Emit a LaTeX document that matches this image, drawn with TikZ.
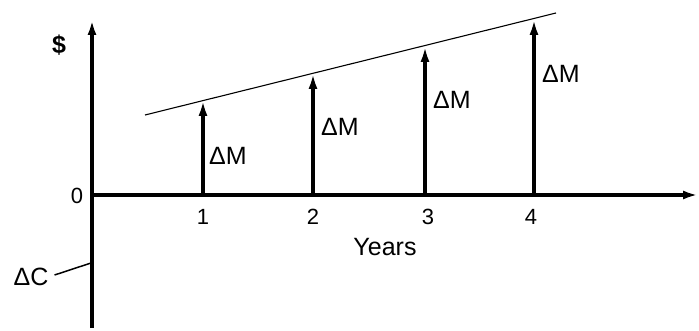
\documentclass[tikz,border=0pt]{standalone}
\usepackage{fontspec}
\setmainfont{Liberation Sans}
\usetikzlibrary{arrows.meta}
\begin{document}
\begin{tikzpicture}[x=1pt,y=-1pt,
  axis/.style={line width=3.2pt, -{Latex[length=15pt,width=9pt]}},
  flow/.style={line width=3.2pt, -{Latex[length=16pt,width=9pt]}},
  lbl/.style={font=\fontsize{25}{25}\selectfont, inner sep=0pt},
  ticklbl/.style={font=\fontsize{22}{22}\selectfont, inner sep=0pt},
  trend/.style={line width=1.1pt},
  lead/.style={line width=1.5pt}]
\useasboundingbox (0,0) rectangle (699,331);
% axes
\coordinate (O) at (92,195);
\coordinate (ytop) at (92,20);
\coordinate (ybot) at (92,328);
\coordinate (xend) at (698,195);
\draw[axis] (ybot) -- (ytop);
\draw[axis] (O) -- (xend);
% trend line
\coordinate (tl1) at (145,115);
\coordinate (tl2) at (556,13);
\draw[trend] (tl1) -- (tl2);
% cash flow arrows
\coordinate (b1) at (203,195); \coordinate (t1) at (203,100);
\coordinate (b2) at (313,195); \coordinate (t2) at (313,73);
\coordinate (b3) at (425,195); \coordinate (t3) at (425,46);
\coordinate (b4) at (534,195); \coordinate (t4) at (534,19);
\draw[flow] (b1) -- (t1);
\draw[flow] (b2) -- (t2);
\draw[flow] (b3) -- (t3);
\draw[flow] (b4) -- (t4);
% labels
\node[lbl, anchor=west] (m1) at (209,156) {ΔM};
\node[lbl, anchor=west] (m2) at (321,127) {ΔM};
\node[lbl, anchor=west] (m3) at (433,100) {ΔM};
\node[lbl, anchor=west] (m4) at (542,74) {ΔM};
\node[ticklbl] (n1) at (203,217) {1};
\node[ticklbl] (n2) at (313,217) {2};
\node[ticklbl] (n3) at (428,217) {3};
\node[ticklbl] (n4) at (531,217) {4};
\node[lbl] (years) at (385,247) {Years};
\node[ticklbl] (zero) at (77,196) {0};
\node[ticklbl, font=\bfseries\fontsize{25}{25}\selectfont] (dollar) at (59,45) {\$};
\node[lbl] (dc) at (31,277) {ΔC};
\coordinate (dcend) at (91,263);
\draw[lead] (dc.east) ++(6,-2) -- (dcend);
\end{tikzpicture}
\end{document}
